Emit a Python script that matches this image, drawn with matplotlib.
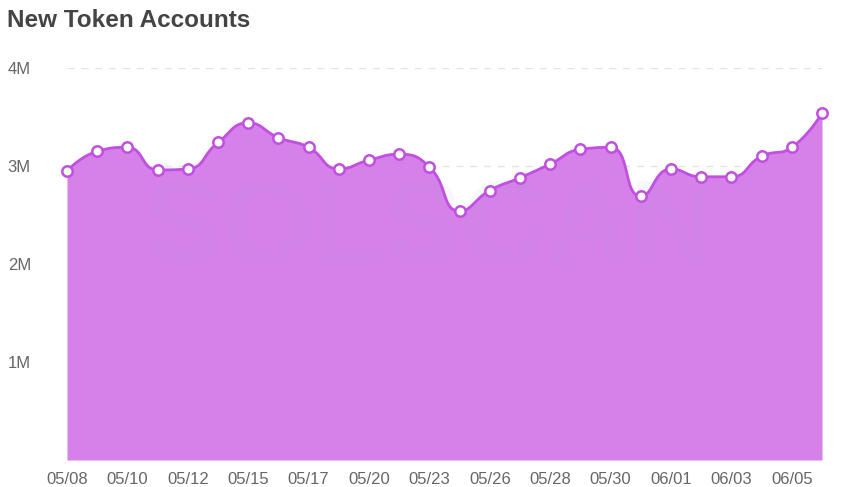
import numpy as np
import matplotlib
matplotlib.use("Agg")
import matplotlib.pyplot as plt

dates = ["05/08", "05/09", "05/10", "05/11", "05/12", "05/14", "05/15", "05/16",
         "05/17", "05/19", "05/20", "05/22", "05/23", "05/25", "05/26", "05/27",
         "05/28", "05/29", "05/30", "05/31", "06/01", "06/02", "06/03", "06/04",
         "06/05", "06/06"]
values_m = [2.95, 3.15, 3.19, 2.96, 2.97, 3.24, 3.44, 3.29, 3.19, 2.97, 3.06,
            3.12, 2.99, 2.54, 2.75, 2.88, 3.02, 3.17, 3.19, 2.69, 2.97, 2.89,
            2.89, 3.10, 3.19, 3.54]
values = np.array(values_m) * 1e6
yticks = [1e6, 2e6, 3e6, 4e6]
ytick_labels = ["1M", "2M", "3M", "4M"]

plt.rcParams['font.family'] = ['Liberation Sans', 'DejaVu Sans']

LINE = "#c14fe0"
FILL = "#d680ea"

AX_LEFT, AX_RIGHT, AX_TOP, AX_BOTTOM = 67, 822, 68, 460


def constrained_bezier(xd, yd, kx, ky, smooth=0.5, n=30):
    """Smoothed path with control points clamped between neighbours
    (computed in pixel space; kx, ky = pixels per data unit)."""
    P = np.column_stack([np.asarray(xd, float) * kx, np.asarray(yd, float) * ky])
    N = len(P)
    segs = []
    cp0 = P[0].copy()
    for i in range(1, N):
        x, y = P[i]
        px, py = P[i - 1]
        if i < N - 1:
            nx, ny = P[i + 1]
            vx, vy = nx - px, ny - py
            lp = np.hypot(x - px, y - py)
            ln = np.hypot(nx - x, ny - y)
            r = ln / (ln + lp) if (ln + lp) > 0 else 0.5
            ncx = x + vx * smooth * r
            ncy = y + vy * smooth * r
            ncx = max(min(ncx, max(nx, x)), min(nx, x))
            ncy = max(min(ncy, max(ny, y)), min(ny, y))
            vx, vy = ncx - x, ncy - y
            c1x = x - vx * (lp / ln if ln else 0)
            c1y = y - vy * (lp / ln if ln else 0)
            c1x = max(min(c1x, max(px, x)), min(px, x))
            c1y = max(min(c1y, max(py, y)), min(py, y))
            vx, vy = x - c1x, y - c1y
            ncx = x + vx * (ln / lp if lp else 0)
            ncy = y + vy * (ln / lp if lp else 0)
            cp1 = np.array([c1x, c1y])
            ncp0 = np.array([ncx, ncy])
        else:
            cp1 = P[i].copy()
            ncp0 = P[i].copy()
        t = np.linspace(0, 1, n)[:, None]
        seg = ((1 - t) ** 3) * P[i - 1] + 3 * ((1 - t) ** 2) * t * cp0 \
            + 3 * (1 - t) * t ** 2 * cp1 + t ** 3 * P[i]
        segs.append(seg if i == 1 else seg[1:])
        cp0 = ncp0
    out = np.vstack(segs)
    return out[:, 0] / kx, out[:, 1] / ky


fig = plt.figure(figsize=(8.5, 4.87), dpi=100)
ax = fig.add_axes([AX_LEFT / 850, 1 - AX_BOTTOM / 487,
                   (AX_RIGHT - AX_LEFT) / 850, (AX_BOTTOM - AX_TOP) / 487])

xs = np.arange(len(values))
kx = (AX_RIGHT - AX_LEFT) / (len(values) - 1)
ky = (AX_BOTTOM - AX_TOP) / 4e6
sx, sy = constrained_bezier(xs, values, kx, ky)

for yt in [0] + yticks:
    ax.axhline(yt, color="#e3e3e3", lw=1, ls=(0, (5, 5)), zorder=0)

ax.fill_between(sx, 0, sy, color=FILL, lw=0, zorder=1)
ax.text(12.0, 2.33e6, "SOLSCAN", ha="center", va="center", fontsize=84,
        fontweight="bold", color="#9fb0d8", alpha=0.08, zorder=1.5)
ax.plot(sx, sy, color=LINE, lw=2.0, zorder=2, solid_capstyle="round")
ax.plot(xs, values, ls="none", marker="o", ms=7.5, mfc="white", mec=LINE,
        mew=1.8, zorder=3, clip_on=False)

ax.set_xlim(0, len(values) - 1)
ax.set_ylim(0, 4e6)
ax.set_xticks(xs[::2])
ax.set_xticklabels(dates[::2], fontsize=12, color="#666666")
ax.set_yticks(yticks)
ax.set_yticklabels(ytick_labels, fontsize=12, color="#666666")
ax.tick_params(axis="both", length=0)
ax.tick_params(axis="x", pad=9)
ax.tick_params(axis="y", pad=26)
for s in ax.spines.values():
    s.set_visible(False)

fig.text(7 / 850, 1 - 27 / 487, "New Token Accounts", fontsize=17.5,
         fontweight="bold", color="#444444", ha="left", va="baseline")

fig.savefig("out.png", dpi=100)
